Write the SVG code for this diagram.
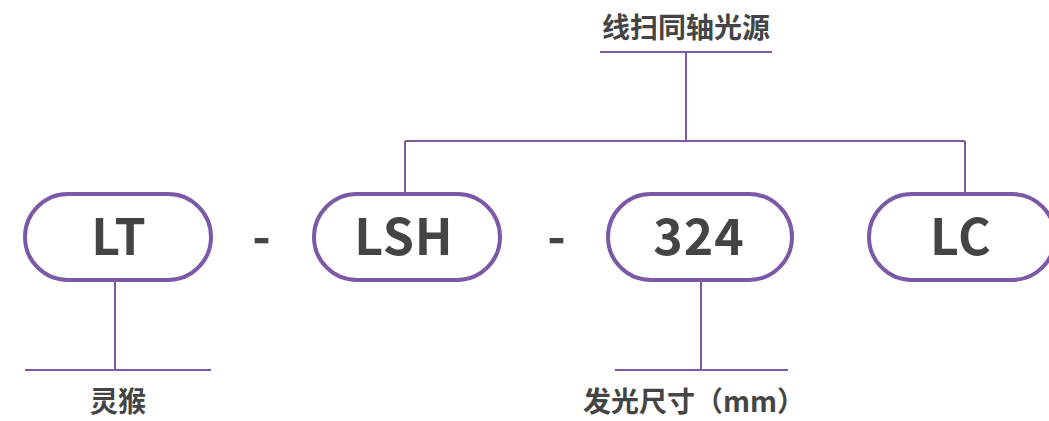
<svg xmlns="http://www.w3.org/2000/svg" width="1049" height="421" viewBox="0 0 1049 421">
<style>
.pill{fill:#fff;stroke:#7b59a6;stroke-width:4}
.ln{stroke:#7b59a6;stroke-width:2;fill:none}
.big{font-family:"Noto Sans CJK SC","Noto Sans",sans-serif;font-weight:700;font-size:50px;letter-spacing:1px;fill:#444;text-anchor:middle}
.lbl{font-family:"Noto Sans CJK SC",sans-serif;font-weight:700;font-size:28px;fill:#444;text-anchor:middle}
</style>
<rect width="1049" height="421" fill="#fff"/>
<g id="connectors">
<path class="ln" d="M600 52H772M686 52V141M405 141H965M405 141V192M965 141V192"/>
<path class="ln" d="M25 370H211M115 282V370"/>
<path class="ln" d="M615 370H788M701 282V370"/>
</g>
<g id="node-title"><text class="lbl" x="686" y="38">线扫同轴光源</text></g>
<g id="node-LT"><rect class="pill" x="25" y="194" width="186" height="86" rx="43"/><text class="big" x="119" y="255">LT</text></g>
<g id="dash1"><text class="big" x="262" y="255">-</text></g>
<g id="node-LSH"><rect class="pill" x="314" y="194" width="186" height="86" rx="43"/><text class="big" x="404" y="255">LSH</text></g>
<g id="dash2"><text class="big" x="557" y="255">-</text></g>
<g id="node-324"><rect class="pill" x="608" y="194" width="184" height="86" rx="43"/><text class="big" x="699" y="255">324</text></g>
<g id="node-LC"><rect class="pill" x="869" y="194" width="186" height="86" rx="43"/><text class="big" x="961" y="255">LC</text></g>
<g id="node-linghou"><text class="lbl" x="118" y="412">灵猴</text></g>
<g id="node-size"><text class="lbl" x="694" y="412">发光尺寸（mm）</text></g>
</svg>
